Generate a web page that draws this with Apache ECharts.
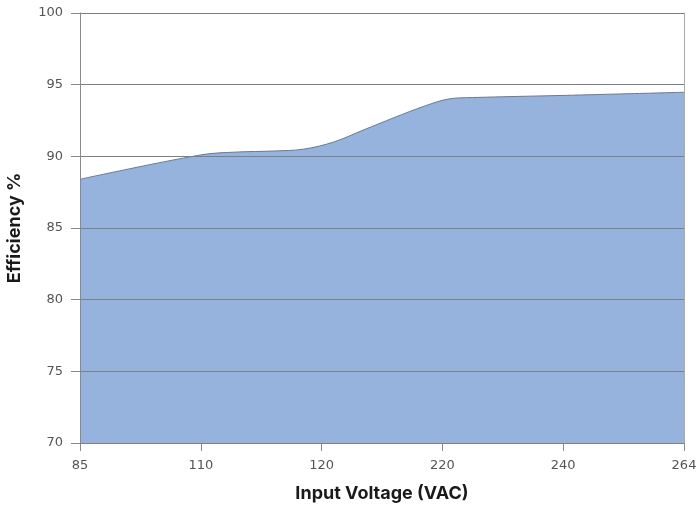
<!DOCTYPE html>
<html>
<head>
<meta charset="utf-8">
<script src="https://cdn.jsdelivr.net/npm/echarts@6/dist/echarts.min.js"></script>
<style>html,body{margin:0;padding:0;background:#fff}#c{width:700px;height:507px}</style>
</head>
<body>
<div id="c"></div>
<script>
// Tick labels of the x axis (equally spaced categories)
const xTickLabels = ['85', '110', '120', '220', '240', '264'];
// Curve samples: position along the category axis (0 = "85", 5 = "264") and efficiency %
const curvePos = [0, 1, 1.3, 1.6, 1.85, 2.1, 2.35, 2.6, 2.85, 3.05, 3.25, 4, 5];
const efficiency = [88.4, 90.1, 90.3, 90.37, 90.5, 91.0, 91.85, 92.7, 93.5, 94.0, 94.1, 94.25, 94.47];
const yMin = 70, yMax = 100, yStep = 5;

const chart = echarts.init(document.getElementById('c'), null, {renderer: 'canvas'});
const font = 'Inter, "DejaVu Sans", sans-serif';
const tickFont = '"DejaVu Sans", Inter, sans-serif';
chart.setOption({
  animation: false,
  grid: {left: 80, right: 16, top: 13, bottom: 64, outerBoundsMode: 'none', containLabel: false},
  xAxis: {
    type: 'value', min: 0, max: xTickLabels.length - 1, interval: 1,
    name: 'Input Voltage (VAC)', nameLocation: 'middle', nameGap: 42,
    nameTextStyle: {fontFamily: font, fontSize: 18, fontWeight: 'bold', color: '#1a1a1a'},
    axisLine: {show: true, lineStyle: {color: '#8a8a8a', width: 1}},
    axisTick: {show: true, length: 8, lineStyle: {color: '#8a8a8a'}},
    axisLabel: {margin: 16, fontFamily: tickFont, fontSize: 13, color: '#555',
      formatter: v => xTickLabels[Math.round(v)] ?? ''},
    splitLine: {show: false}
  },
  yAxis: [{
    type: 'value', min: yMin, max: yMax, interval: yStep, z: 5,
    name: 'Efficiency %', nameLocation: 'middle', nameGap: 56, nameRotate: 90,
    nameTextStyle: {fontFamily: font, fontSize: 18, fontWeight: 'bold', color: '#1a1a1a'},
    axisLine: {show: true, lineStyle: {color: '#8a8a8a', width: 1}},
    axisTick: {show: true, length: 9, lineStyle: {color: '#8a8a8a'}},
    axisLabel: {margin: 17, fontFamily: tickFont, fontSize: 13, color: '#555'},
    splitLine: {show: true, lineStyle: {color: '#7a7f88', width: 1}}
  }, {
    type: 'value', min: yMin, max: yMax, interval: yStep, position: 'right',
    axisLine: {show: true, lineStyle: {color: '#aaaaaa', width: 1}},
    axisTick: {show: false}, axisLabel: {show: false}, splitLine: {show: false}
  }],
  series: [{
    type: 'line',
    data: curvePos.map((p, i) => [p, efficiency[i]]),
    smooth: 0.35,
    symbol: 'none',
    lineStyle: {color: '#777', width: 1},
    areaStyle: {color: '#95b3dd', opacity: 1}
  }]
});
</script>
</body>
</html>
